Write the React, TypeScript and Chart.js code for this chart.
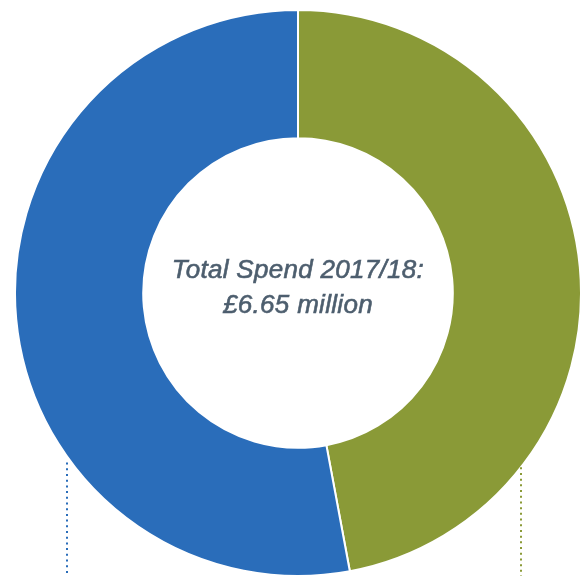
import React, { useEffect, useRef } from "react";
import { Chart, registerables } from "chart.js";

Chart.register(...registerables);

const categories = ["Share A", "Share B"];
const spendMillions = [3.13, 3.52];
const segmentColors = ["#8A9A37", "#2A6DBA"];
const centerLines = ["Total Spend 2017/18:", "£6.65 million"];

const centerTextPlugin = {
  id: "centerText",
  afterDraw(chart: any) {
    const meta = chart.getDatasetMeta(0);
    const arc = meta.data[0];
    if (!arc) return;
    const { x, y, outerRadius } = arc.getProps(["x", "y", "outerRadius"], true);
    const ctx = chart.ctx;
    ctx.save();
    ctx.fillStyle = "#4D5E6E";
    ctx.strokeStyle = "#4D5E6E";
    ctx.lineWidth = 0.6;
    ctx.font = "italic 26px 'Liberation Sans', Arial, sans-serif";
    (ctx as any).letterSpacing = "0.3px";
    ctx.textAlign = "center";
    ctx.textBaseline = "alphabetic";
    ctx.fillText(centerLines[0], x, y - 15);
    ctx.strokeText(centerLines[0], x, y - 15);
    ctx.fillText(centerLines[1], x, y + 20);
    ctx.strokeText(centerLines[1], x, y + 20);
    (ctx as any).letterSpacing = "0px";

    // dotted leader lines below the ring
    const leaders = [
      { dx: -0.816, gap: 6, color: segmentColors[1] },
      { dx: 0.788, gap: 0, color: segmentColors[0] },
    ];
    leaders.forEach((l) => {
      const lx = Math.round(x + l.dx * outerRadius);
      const dxp = l.dx * outerRadius;
      const startY = y + Math.sqrt(outerRadius * outerRadius - dxp * dxp) + l.gap;
      ctx.strokeStyle = l.color;
      ctx.lineWidth = 2;
      ctx.setLineDash([2, 3.7]);
      ctx.beginPath();
      ctx.moveTo(lx, startY);
      ctx.lineTo(lx, chart.height);
      ctx.stroke();
    });
    ctx.restore();
  },
};

export default function App() {
  const ref = useRef<HTMLCanvasElement | null>(null);
  useEffect(() => {
    if (!ref.current) return;
    const chart = new Chart(ref.current, {
      type: "doughnut",
      data: {
        labels: categories,
        datasets: [
          {
            data: spendMillions,
            backgroundColor: segmentColors,
            borderColor: "#FFFFFF",
            borderWidth: 2,
          },
        ],
      },
      options: {
        responsive: false,
        animation: false,
        cutout: "54.7%",
        layout: { padding: { left: 14, right: 2, top: 9, bottom: 3 } },
        plugins: {
          legend: { display: false },
          tooltip: { enabled: false },
        },
      },
      plugins: [centerTextPlugin],
    });
    return () => chart.destroy();
  }, []);
  return (
    <div style={{ position: "absolute", left: 0, top: 0, width: 584, height: 580 }}>
      <canvas ref={ref} width={584} height={580} style={{ width: 584, height: 580, display: "block" }} />
    </div>
  );
}
